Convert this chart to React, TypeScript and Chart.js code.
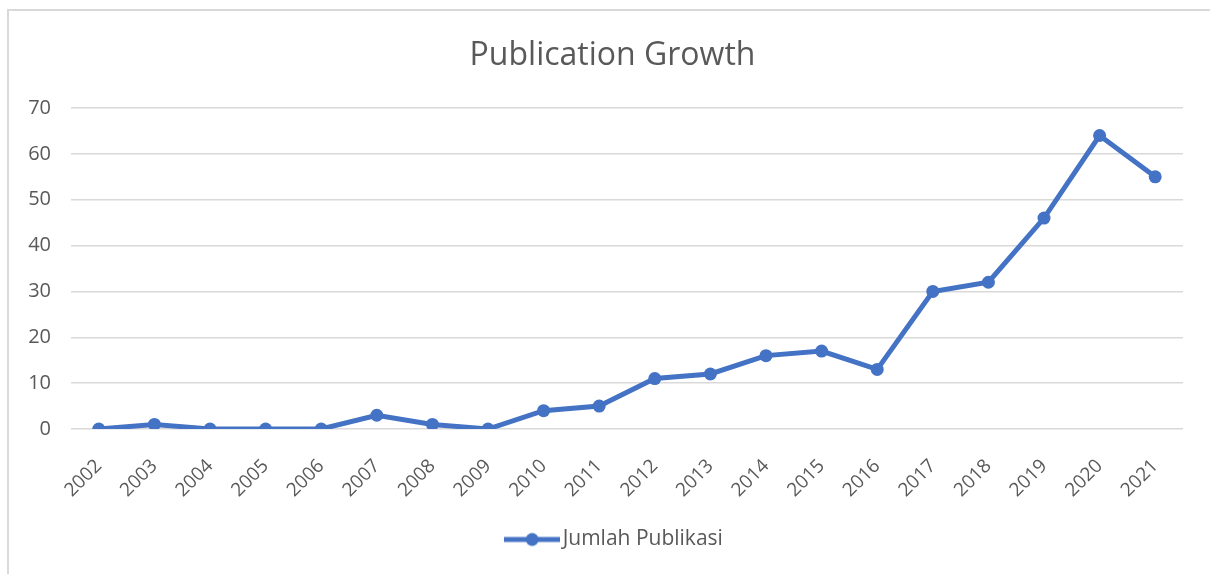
import React, { useEffect, useRef } from "react";
import { Chart, registerables } from "chart.js";

Chart.register(...registerables);

const years = ["2002","2003","2004","2005","2006","2007","2008","2009","2010","2011","2012","2013","2014","2015","2016","2017","2018","2019","2020","2021"];
const publications = [0, 1, 0, 0, 0, 3, 1, 0, 4, 5, 11, 12, 16, 17, 13, 30, 32, 46, 64, 55];
const yTicks = [0, 10, 20, 30, 40, 50, 60, 70];

const seriesName = "Jumlah Publikasi";
const titleText = "Publication Growth";
const BLUE = "#4472C4";
const GRAY = "#595959";
const FONT = "'Open Sans', sans-serif";

function legendIcon(): HTMLCanvasElement {
  const c = document.createElement("canvas");
  c.width = 56;
  c.height = 16;
  const ctx = c.getContext("2d")!;
  ctx.strokeStyle = BLUE;
  ctx.lineWidth = 5;
  ctx.beginPath();
  ctx.moveTo(0, 8);
  ctx.lineTo(56, 8);
  ctx.stroke();
  ctx.fillStyle = BLUE;
  ctx.beginPath();
  ctx.arc(28, 8, 6.5, 0, Math.PI * 2);
  ctx.fill();
  return c;
}

const shiftBoxes = {
  id: "shiftBoxes",
  afterLayout(chart: any) {
    const t = chart.titleBlock;
    if (t) {
      t.left += 21;
      t.right += 21;
    }
    const l = chart.legend;
    if (l) {
      l.left += 26;
      l.right += 26;
    }
  },
};

export default function App() {
  const ref = useRef<HTMLCanvasElement>(null);
  useEffect(() => {
    document.body.style.margin = "0";
    const icon = legendIcon();
    const chart = new Chart(ref.current!, {
      type: "line",
      data: {
        labels: years,
        datasets: [
          {
            label: seriesName,
            data: publications,
            borderColor: BLUE,
            backgroundColor: BLUE,
            borderWidth: 5,
            pointRadius: 6.5,
            pointHoverRadius: 6.5,
            pointBackgroundColor: BLUE,
            pointBorderColor: BLUE,
            pointBorderWidth: 0,
            tension: 0,
          },
        ],
      },
      options: {
        responsive: false,
        animation: false,
        layout: { padding: { left: 0, right: 27, top: 0, bottom: 14 } },
        plugins: {
          title: {
            display: true,
            text: titleText,
            color: GRAY,
            font: { family: FONT, size: 32, weight: "normal" },
            padding: { top: 37, bottom: 32.6 },
          },
          legend: {
            position: "bottom",
            labels: {
              color: GRAY,
              font: { family: FONT, size: 21 },
              usePointStyle: true,
              pointStyleWidth: 40,
              padding: 10,
              generateLabels: () => [
                {
                  text: seriesName,
                  fillStyle: BLUE,
                  strokeStyle: BLUE,
                  lineWidth: 0,
                  pointStyle: icon,
                  datasetIndex: 0,
                  fontColor: GRAY,
                } as any,
              ],
            },
          },
          tooltip: { enabled: false },
        },
        scales: {
          x: {
            type: "category",
            offset: true,
            grid: { display: false },
            border: { display: false },
            ticks: {
              color: GRAY,
              font: { family: FONT, size: 19 },
              maxRotation: 45,
              minRotation: 45,
              padding: 18,
              autoSkip: false,
            },
            afterFit: (s: any) => {
              s.height = 90;
            },
          },
          y: {
            min: 0,
            max: 70,
            afterBuildTicks: (s: any) => {
              s.ticks = yTicks.map((v) => ({ value: v }));
            },
            grid: { color: "#d9d9d9", lineWidth: 1.5, drawTicks: false },
            border: { display: false },
            ticks: {
              color: GRAY,
              font: { family: FONT, size: 20 },
              padding: 20,
            },
            afterFit: (s: any) => {
              s.width = 71;
            },
          },
        },
      },
      plugins: [shiftBoxes],
    });
    return () => chart.destroy();
  }, []);
  return (
    <div style={{ position: "relative", width: 1210, height: 574, overflow: "hidden", background: "#fff" }}>
      <div
        style={{
          position: "absolute",
          left: 7,
          top: 9,
          width: 1220,
          height: 580,
          borderLeft: "2px solid #d9d9d9",
          borderTop: "2px solid #d9d9d9",
        }}
      />
      <canvas ref={ref} width={1210} height={574} style={{ position: "absolute", left: 0, top: 0 }} />
    </div>
  );
}
